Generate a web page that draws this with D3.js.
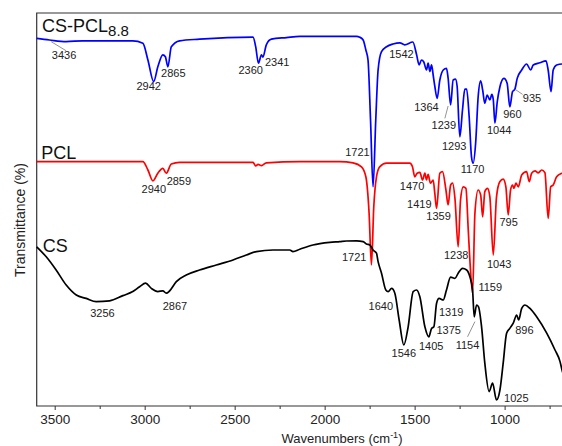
<!DOCTYPE html>
<html><head><meta charset="utf-8">
<script src="https://cdn.jsdelivr.net/npm/d3@7"></script>
<style>body{margin:0;background:#fff}svg{display:block}text{font-family:"Liberation Sans",Arial,sans-serif}</style>
</head><body><svg id="c" width="562" height="446"></svg>
<script>
// ---- data: [wavenumber (cm-1), transmittance (a.u.)]
const csPcl = [[3600,91.9],[3529,91.5],[3436,91.1],[3344,91.3],[3066,91.3],[3010,90.7],[2982,86.5],[2950,81.1],[2927,84.8],[2899,87.8],[2885,87.3],[2871,84.8],[2852,89.8],[2806,91.3],[2695,91.7],[2398,92.2],[2383,89.8],[2368,85.7],[2351,87.8],[2343,87.2],[2324,90.3],[2296,91.7],[2212,92.1],[2138,92.4],[1972,92.4],[1823,92.4],[1805,92.2],[1786,91.5],[1771,89.0],[1759,86.5],[1745,71.5],[1731,54.8],[1716,71.5],[1703,84.0],[1684,88.6],[1656,89.8],[1620,90.5],[1582,90.8],[1555,90.3],[1510,91.0],[1489,87.8],[1475,85.3],[1462,86.5],[1449,86.0],[1434,84.0],[1425,85.7],[1415,83.6],[1406,85.3],[1397,82.75],[1388,80.0],[1375,76.9],[1360,81.5],[1341,84.0],[1323,84.4],[1314,82.0],[1300,75.25],[1286,81.5],[1273,81.7],[1264,80.0],[1249,67.3],[1234,74.0],[1221,79.2],[1211,79.2],[1197,72.3],[1184,62.3],[1175,60.7],[1161,65.7],[1147,77.3],[1133,81.3],[1122,79.0],[1110,75.7],[1097,77.75],[1082,76.5],[1071,77.9],[1063,76.6],[1054,70.7],[1041,76.0],[1026,79.8],[1004,81.9],[986,80.7],[971,74.8],[956,78.6],[943,79.2],[930,81.9],[905,84.0],[878,85.5],[855,84.0],[841,85.25],[804,85.8],[770,86.3],[758,84.0],[742,78.6],[730,84.0],[711,85.25],[681,85.5],[650,85.0]];
const pcl = [[3600,61.1],[3010,61.1],[2982,59.0],[2954,56.3],[2927,58.2],[2899,59.4],[2880,58.2],[2852,60.5],[2806,60.9],[2398,60.9],[2383,60.0],[2370,60.4],[2351,60.1],[2324,60.8],[2138,61.1],[1916,61.1],[1842,60.8],[1795,59.8],[1771,57.3],[1753,48.2],[1740,35.25],[1727,49.8],[1712,57.3],[1694,59.8],[1656,60.7],[1527,60.7],[1512,59.8],[1499,57.3],[1486,58.2],[1471,58.4],[1456,56.5],[1443,58.2],[1434,56.5],[1425,57.9],[1412,55.7],[1397,56.5],[1388,53.2],[1378,49.4],[1360,58.2],[1345,58.6],[1326,54.0],[1314,50.25],[1300,55.25],[1289,55.7],[1276,51.9],[1258,39.8],[1245,51.5],[1230,54.8],[1215,54.4],[1202,44.0],[1193,36.5],[1178,28.2],[1165,48.2],[1147,54.0],[1133,52.75],[1122,47.3],[1110,53.6],[1095,54.4],[1082,52.3],[1063,37.75],[1045,52.3],[1026,56.1],[1008,56.7],[993,54.8],[980,47.75],[967,54.0],[956,55.25],[948,54.4],[937,55.7],[924,54.8],[905,57.75],[878,58.6],[863,56.1],[850,58.2],[831,58.8],[813,58.3],[794,59.0],[776,58.3],[758,46.9],[744,54.8],[730,55.25],[711,57.3],[681,58.2],[650,58.5]];
const cs = [[3600,39.8],[3547,37.3],[3492,34.0],[3436,30.25],[3380,27.75],[3325,26.9],[3269,26.1],[3195,26.3],[3121,27.6],[3066,28.6],[3028,29.8],[2995,30.7],[2963,29.4],[2927,28.6],[2899,28.8],[2880,28.2],[2862,28.75],[2824,31.1],[2769,32.75],[2695,34.0],[2602,35.25],[2509,36.5],[2435,37.75],[2379,38.6],[2287,39.0],[2194,39.0],[2176,38.6],[2138,39.2],[2065,40.25],[1972,40.9],[1916,41.1],[1879,41.25],[1823,41.3],[1786,41.1],[1768,40.5],[1749,40.25],[1731,39.0],[1712,38.2],[1703,36.1],[1684,33.2],[1660,29.0],[1647,28.6],[1628,29.4],[1610,28.2],[1586,21.5],[1560,15.25],[1536,19.8],[1508,28.6],[1489,29.0],[1471,27.3],[1443,19.8],[1421,17.3],[1406,19.4],[1393,19.8],[1378,25.7],[1364,26.9],[1341,26.5],[1323,29.0],[1300,32.2],[1276,31.9],[1258,33.2],[1234,34.4],[1211,34.0],[1193,32.3],[1178,29.0],[1169,22.3],[1156,25.25],[1145,24.8],[1128,19.8],[1110,10.7],[1086,3.6],[1067,5.7],[1045,1.5],[1026,4.0],[1008,10.7],[989,18.2],[971,19.4],[952,20.7],[933,22.75],[922,21.5],[905,24.4],[887,25.25],[859,24.4],[822,22.3],[766,18.2],[720,14.0],[692,11.1],[681,9.0],[650,5.0]];

const seriesNames = ["CS-PCL", "PCL", "CS"];
const seriesSub = ["8.8", "", ""];
const seriesColors = ["#0000ff", "#ff0000", "#000000"];
const seriesLabelPos = [[3570,93.4],[3575,61.75],[3566,38.4]];

// peak annotations: [text, wavenumber, value]
const peakLabels = [
  ["3436",3448,87.8],["2942",2978,80.0],["2865",2841,83.25],["2360",2411,83.9],["2341",2264,86.1],
  ["1542",1573,88.1],["1721",1818,63.45],["1364",1434,74.7],["1239",1338,70.25],["1293",1280,64.95],
  ["1170",1178,59.3],["1044",1030,69.1],["960",957,72.9],["935",848,76.9],
  ["2940",2949,54.2],["2859",2810,56.2],["1470",1514,54.95],["1419",1474,50.55],["1359",1367,47.45],
  ["1238",1269,37.7],["1043",1030,35.6],["795",978,46.0],["1721",1836,37.3],
  ["3256",3235,23.3],["2867",2832,24.95],["1640",1688,25.05],["1546",1560,13.3],["1405",1408,15.1],
  ["1375",1311,19.0],["1319",1297,23.6],["1159",1080,29.7],["1154",1206,15.3],["896",890,18.9],["1025",935,1.9]
];
// leader lines: [w1,v1,w2,v2]
const leaders = [[3520,91.1,3436,88.8],[1314,75.0,1332,71.9],[943,79.2,900,77.9],[1165,21.1,1206,17.3]];

const majorTicks = [3500,3000,2500,2000,1500,1000];
const minorTicks = [3250,2750,2250,1750,1250,750];

// ---- drawing
const svg = d3.select("#c");
const x = d3.scaleLinear().domain([3600, 650]).range([36.7, 567.6]);
const y = d3.scaleLinear().domain([0, 98.25]).range([406, 13]);

// frame
svg.append("path").attr("d", `M${x.range()[1]+2},${y(98.25)}H${x(3600)}V${y(0)}H${x.range()[1]+2}`)
  .attr("fill","none").attr("stroke","#333").attr("stroke-width",1.2);

const ax = svg.append("g").attr("transform",`translate(0,${y(0)})`)
  .call(d3.axisBottom(x).tickValues(majorTicks).tickSize(4).tickPadding(4).tickFormat(d3.format("d")));
ax.select(".domain").remove();
ax.selectAll("line").attr("stroke","#333");
ax.selectAll("text").attr("font-size","13.5px").attr("fill","#222").style("font-family",'"Liberation Sans",Arial,sans-serif');
const axm = svg.append("g").attr("transform",`translate(0,${y(0)})`)
  .call(d3.axisBottom(x).tickValues(minorTicks).tickSize(3).tickFormat(""));
axm.select(".domain").remove();
axm.selectAll("line").attr("stroke","#333");

// titles
const xt = svg.append("text").attr("x",342).attr("y",443).attr("text-anchor","middle").attr("font-size","13px").attr("fill","#222");
xt.append("tspan").text("Wavenumbers (cm");
xt.append("tspan").text("-1").attr("font-size","9px").attr("dy",-5);
xt.append("tspan").text(")").attr("dy",5);
svg.append("text").attr("transform","translate(25,220) rotate(-90)").attr("text-anchor","middle")
  .attr("font-size","14px").attr("fill","#222").text("Transmittance (%)");

// lines
const line = d3.line().x(d=>x(d[0])).y(d=>y(d[1])).curve(d3.curveMonotoneX);
[csPcl, pcl, cs].forEach((s,i)=>{
  svg.append("path").datum(s).attr("d",line).attr("fill","none")
    .attr("stroke",seriesColors[i]).attr("stroke-width",1.7).attr("stroke-linejoin","round");
});

// series labels
seriesNames.forEach((n,i)=>{
  const t = svg.append("text").attr("x",x(seriesLabelPos[i][0])).attr("y",y(seriesLabelPos[i][1]))
    .attr("font-size","18px").attr("fill","#111");
  t.append("tspan").text(n);
  if (seriesSub[i]) t.append("tspan").text(seriesSub[i]).attr("font-size","15px").attr("dy",4);
});

// leaders
svg.selectAll(".ld").data(leaders).join("line")
  .attr("x1",d=>x(d[0])).attr("y1",d=>y(d[1])).attr("x2",d=>x(d[2])).attr("y2",d=>y(d[3]))
  .attr("stroke","#777").attr("stroke-width",0.8);

// peak labels
svg.selectAll(".pk").data(peakLabels).join("text")
  .attr("x",d=>x(d[1])).attr("y",d=>y(d[2])).attr("dy","0.36em").attr("text-anchor","middle")
  .attr("font-size","11px").attr("fill","#222").text(d=>d[0]);
</script></body></html>
